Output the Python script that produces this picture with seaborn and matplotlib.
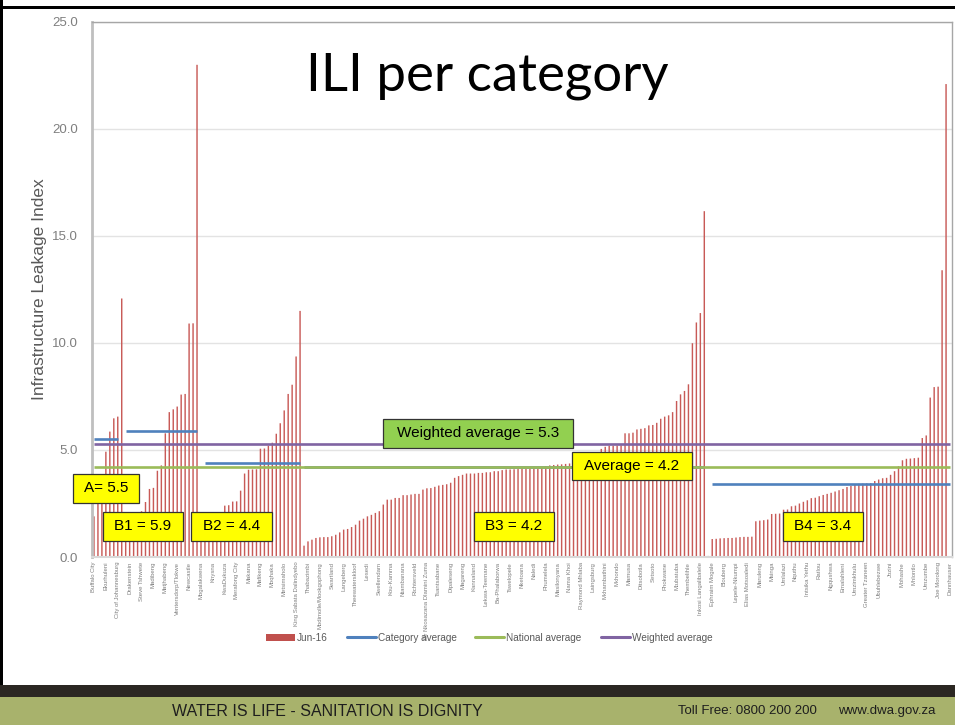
import numpy as np
import pandas as pd
import matplotlib
matplotlib.use("Agg")
import matplotlib.pyplot as plt
import seaborn as sns
from matplotlib.patches import Rectangle, Patch
from matplotlib.lines import Line2D

# ---------------- data ----------------
group_a = [1.90, 2.60, 3.50, 4.92, 5.86, 6.48, 6.56, 12.08]
group_b1 = [1.10, 1.50, 1.70, 1.90, 2.14, 2.57, 3.18, 3.23, 4.03, 4.28,
            5.78, 6.77, 6.90, 7.03, 7.59, 7.62, 10.91, 10.92, 23.00]
group_b2 = [0.90, 1.20, 1.50, 1.70, 1.90, 2.10, 2.40, 2.42, 2.59, 2.60,
            3.10, 3.90, 4.08, 4.09, 4.10, 5.06, 5.07, 5.20, 5.34, 5.76,
            6.25, 6.85, 7.62, 8.05, 9.37, 11.50]
group_b3 = [0.53, 0.73, 0.81, 0.89, 0.92, 0.93, 0.93, 0.97, 1.04, 1.15,
            1.28, 1.31, 1.40, 1.51, 1.70, 1.79, 1.90, 1.97, 2.06, 2.14,
            2.45, 2.68, 2.68, 2.76, 2.76, 2.89, 2.89, 2.92, 2.95, 2.95,
            3.15, 3.21, 3.22, 3.28, 3.34, 3.37, 3.40, 3.47, 3.70, 3.78,
            3.84, 3.90, 3.90, 3.90, 3.93, 3.93, 3.96, 3.96, 4.01, 4.01,
            4.06, 4.09, 4.09, 4.10, 4.11, 4.12, 4.12, 4.13, 4.13, 4.14,
            4.20, 4.25, 4.28, 4.30, 4.32, 4.33, 4.35, 4.37,
            4.40, 4.45, 4.52, 4.60, 4.68, 4.78, 4.90, 5.05,
            5.15, 5.20, 5.20, 5.21, 5.22, 5.78, 5.78, 5.81, 5.96, 5.99,
            6.02, 6.15, 6.17, 6.27, 6.46, 6.56, 6.62, 6.77, 7.29, 7.60,
            7.76, 8.07, 9.99, 10.96, 11.40, 16.16]
group_b4 = [0.05, 0.84, 0.85, 0.87, 0.88, 0.89, 0.89, 0.91, 0.93, 0.94,
            0.94, 0.95, 1.67, 1.70, 1.72, 1.75, 2.01, 2.02, 2.03,
            2.21, 2.22, 2.37, 2.40, 2.50, 2.58, 2.65, 2.75, 2.77, 2.84,
            2.90, 2.95, 3.00, 3.06, 3.12, 3.18, 3.27, 3.32, 3.40, 3.42,
            3.43, 3.44, 3.45, 3.55, 3.62, 3.68, 3.70, 3.84, 4.01, 4.24,
            4.52, 4.59, 4.60, 4.62, 4.64, 5.56, 5.68, 7.45, 7.94, 7.96,
            13.40, 22.10, 0.00]

tick_labels = [
    "Buffalo City", "Ekurhuleni", "City of Johannesburg", "Drakenstein",
    "Steve Tshwete", "Madibeng", "Matjhabeng", "Ventersdorp/Tlokwe",
    "Newcastle", "Mogalakwena", "Knysna", "KwaDukuza", "Merafong City",
    "Makana", "Mafikeng", "Moqhaka", "Metsimaholo", "King Sabata Dalindyebo",
    "Thabazimbi", "Modimolle/Mookgophong", "Swartland", "Langeberg",
    "Theewaterskloof", "Lesedi", "Swellendam", "Kou-Kamma", "Ntambanana",
    "Richtersveld", "Dr Nkosazana Dlamini Zuma", "Tsantsabane", "Dipaleseng",
    "Magareng", "Kannaland", "Lekwa-Teemane", "Ba-Phalaborwa", "Tswelopele",
    "Nketoana", "Naledi", "Phumelela", "Masilonyana", "Nama Khoi",
    "Raymond Mhlaba", "Laingsburg", "Mkhambathini", "Mkhondo", "Mamusa",
    "Ditsobotla", "Setsoto", "Phokwane", "Mtubatuba", "Thembelihle",
    "Inkosi Langalibalele", "Ephraim Mogale", "Blouberg", "Lepele-Nkumpi",
    "Elias Motsoaledi", "Maruleng", "Msinga", "Umlalazi", "Nquthu",
    "Intsika Yethu", "Ratlou", "Ngqushwa", "Emalahleni", "Umzimkhulu",
    "Greater Tzaneen", "Ubuhlebezwe", "Jozini", "Mbhashe", "Mhlontlo",
    "Umzumbe", "Joe Morolong", "Dannhauser"]

category_names = ["A", "B1", "B2", "B3", "B4"]
category_avgs = [5.5, 5.9, 4.4, 4.2, 3.4]
category_line_spans = [(0, 6), (8, 26), (28, 52), (53, 154), (156, 216)]
national_avg = 4.2
weighted_avg = 5.3

# ---------------- build ----------------
values = group_a + group_b1 + group_b2 + group_b3 + group_b4
n = len(values)
df = pd.DataFrame({"pos": np.arange(n), "ili": values})

W, H = 955, 725
sns.set_style("white")
plt.rcParams["font.family"] = ["Liberation Sans", "DejaVu Sans"]
plt.rcParams["patch.force_edgecolor"] = False
fig = plt.figure(figsize=(W / 100, H / 100), dpi=100)

def fx(px):
    return px / W

def fy(py):
    return 1 - py / H

ax = fig.add_axes([fx(92), fy(557), fx(952) - fx(92), fy(22) - fy(557)])

RED = "#C0504D"
BAR_RED = "#C85A57"
BLUE = "#4F81BD"
GREEN = "#9BBB59"
PURPLE = "#8064A2"
GRAY_TXT = "#7F7F7F"
NARROW = ["Liberation Sans Narrow", "Liberation Sans"]

sns.barplot(data=df, x="pos", y="ili", color=BAR_RED, saturation=1,
            width=0.36, errorbar=None, ax=ax, linewidth=0,
            edgecolor="none", zorder=2)
for p in ax.patches:
    p.set_snap(False)

# national and weighted averages (full width)
ax.plot([0, n - 1], [national_avg, national_avg], color=GREEN, lw=1.9,
        zorder=4, solid_capstyle="butt")
ax.plot([0, n - 1], [weighted_avg, weighted_avg], color=PURPLE, lw=1.9,
        zorder=4, solid_capstyle="butt")
# category averages
for (s, e), v in zip(category_line_spans, category_avgs):
    ax.plot([s, e], [v, v], color=BLUE, lw=1.9, zorder=3.5,
            solid_capstyle="butt")

ax.set_xlim(-0.5, n - 0.5)
ax.set_ylim(0, 25)
ax.set_yticks(np.arange(0, 25.1, 5))
ax.set_yticklabels([f"{t:.1f}" for t in np.arange(0, 25.1, 5)],
                   fontsize=9.5, color=GRAY_TXT, family=NARROW)
ax.set_xticks(np.arange(0, n, 3))
ax.set_xticklabels(tick_labels, rotation=90, fontsize=4.3, color=GRAY_TXT,
                   family=NARROW)
ax.tick_params(axis="both", length=0)
ax.tick_params(axis="y", pad=10)
ax.tick_params(axis="x", pad=3.5)
ax.set_xlabel("")
ax.set_ylabel("Infrastructure Leakage Index", fontsize=12.5, color="#595959",
              family=NARROW, labelpad=4)
ax.grid(axis="y", color="#E3E3E3", lw=1, zorder=0)
ax.set_axisbelow(True)
for side in ["top", "right"]:
    ax.spines[side].set_color("#A6A6A6")
    ax.spines[side].set_linewidth(1)
ax.spines["left"].set_color("#BFBFBF")
ax.spines["left"].set_linewidth(2)
ax.spines["bottom"].set_color("#D9D9D9")
ax.spines["bottom"].set_linewidth(1.5)

# title
fig.text(fx(487), fy(90), "ILI per category", ha="center", va="baseline",
         fontsize=38, family=["Lato", "DejaVu Sans"], color="black")

# annotation boxes (pixel rectangles of the slide)
boxes = [
    ("A= 5.5", 73, 474, 139, 503, "#FFFF00"),
    ("B1 = 5.9", 103, 512, 183, 541, "#FFFF00"),
    ("B2 = 4.4", 191, 512, 272, 541, "#FFFF00"),
    ("Weighted average = 5.3", 383, 419, 573, 448, "#92D050"),
    ("Average = 4.2", 572, 452, 692, 480, "#FFFF00"),
    ("B3 = 4.2", 474, 512, 554, 541, "#FFFF00"),
    ("B4 = 3.4", 783, 512, 863, 541, "#FFFF00"),
]
for txt, x0, y0, x1, y1, fc in boxes:
    fig.patches.append(Rectangle((fx(x0), fy(y1)), fx(x1 - x0), (y1 - y0) / H,
                                 transform=fig.transFigure, fc=fc,
                                 ec="#333333", lw=0.9, zorder=10))
    fig.text(fx((x0 + x1) / 2), fy((y0 + y1) / 2), txt, ha="center",
             va="center", fontsize=11, color="black", zorder=11)

# legend
handles = [Patch(facecolor=RED, edgecolor="none"),
           Line2D([], [], color=BLUE, lw=2.2),
           Line2D([], [], color=GREEN, lw=2.2),
           Line2D([], [], color=PURPLE, lw=2.2)]
leg = fig.legend(handles, ["Jun-16", "Category average", "National average",
                           "Weighted average"],
                 loc="center", bbox_to_anchor=(fx(489), fy(638)), ncol=4,
                 frameon=False, handlelength=2.9, handleheight=0.8,
                 handletextpad=0.2, columnspacing=1.9,
                 prop={"family": NARROW, "size": 7.2})
for t in leg.get_texts():
    t.set_color("#595959")

# slide frame and footer
fig.patches.append(Rectangle((0, fy(9)), 1, 3 / H, transform=fig.transFigure,
                             fc="black", ec="none", zorder=20))
fig.patches.append(Rectangle((0, 0), 3 / W, 1, transform=fig.transFigure,
                             fc="black", ec="none", zorder=20))
fig.patches.append(Rectangle((0, fy(697)), 1, 12 / H, transform=fig.transFigure,
                             fc="#2B2722", ec="none", zorder=20))
fig.patches.append(Rectangle((0, fy(725)), 1, 28 / H, transform=fig.transFigure,
                             fc="#A8B26C", ec="none", zorder=20))
fig.text(fx(327), fy(711), "WATER IS LIFE - SANITATION IS DIGNITY", ha="center",
         va="center", fontsize=11.5, color="#1E1E1E", family=NARROW, zorder=21)
fig.text(fx(747), fy(711), "Toll Free: 0800 200 200", ha="center",
         va="center", fontsize=9.5, color="#1E1E1E", family=NARROW, zorder=21)
fig.text(fx(887), fy(711), "www.dwa.gov.za", ha="center",
         va="center", fontsize=9.5, color="#1E1E1E", family=NARROW, zorder=21)

fig.savefig("out.png", dpi=100)
